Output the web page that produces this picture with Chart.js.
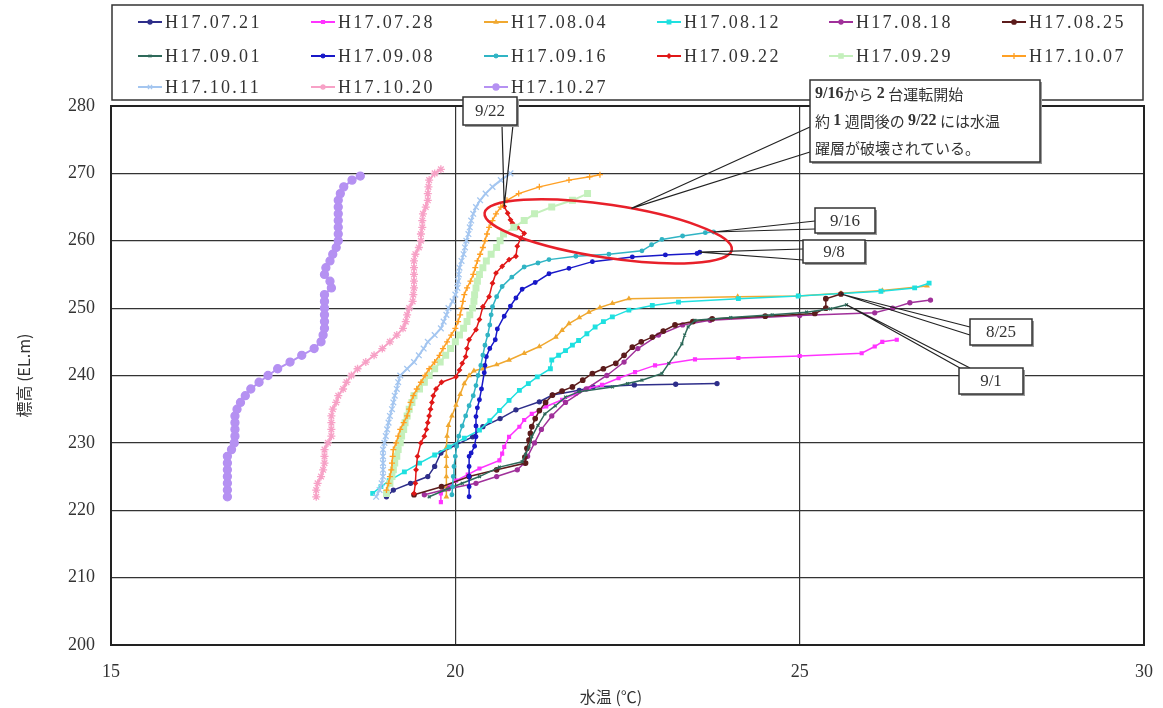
<!DOCTYPE html>
<html>
<head>
<meta charset="utf-8">
<script src="https://cdn.jsdelivr.net/npm/chart.js@4/dist/chart.umd.min.js"></script>
<style>
  html, body { margin: 0; padding: 0; background: #fff; }
  #wrap { width: 1163px; height: 708px; }
</style>
</head>
<body>
<div id="wrap"><canvas id="c" width="1163" height="708"></canvas></div>
<script>
// 水温鉛直分布 (H17) - 標高 vs 水温
const seriesLabels = ["H17.07.21", "H17.07.28", "H17.08.04", "H17.08.12", "H17.08.18", "H17.08.25",
  "H17.09.01", "H17.09.08", "H17.09.16", "H17.09.22", "H17.09.29", "H17.10.07",
  "H17.10.11", "H17.10.20", "H17.10.27"];
const xTicks = [15, 20, 25, 30];
const yTicks = [200, 210, 220, 230, 240, 250, 260, 270, 280];

// 各観測日: 標高(EL.m) と 水温(℃)
const elev0721 = [222.0, 223.0, 224.0, 225.0, 226.5, 228.5, 229.7, 230.9, 232.4, 233.6, 234.9, 236.1, 237.1, 237.8, 238.3, 238.6, 238.7, 238.8];
const temp0721 = [19.0, 19.1, 19.35, 19.6, 19.7, 19.79, 20.01, 20.25, 20.4, 20.65, 20.88, 21.22, 21.41, 21.8, 22.0, 22.6, 23.2, 23.8];

const elev0728 = [221.2, 222.5, 223.5, 224.4, 225.3, 226.2, 227.4, 228.4, 229.4, 230.9, 232.4, 233.4, 234.3, 235.4, 236.4, 237.3, 238.1, 238.6, 239.6, 240.5, 241.5, 242.4, 242.6, 242.9, 243.3, 244.3, 245.0, 245.3];
const temp0728 = [19.79, 19.79, 19.9, 20.01, 20.18, 20.35, 20.64, 20.68, 20.71, 20.78, 20.93, 21.0, 21.11, 21.32, 21.55, 21.75, 21.94, 22.13, 22.37, 22.61, 22.9, 23.48, 24.11, 25.0, 25.9, 26.09, 26.2, 26.41];

const elev0804 = [222.0, 223.5, 225.0, 226.5, 228.0, 229.3, 231.0, 232.6, 234.0, 235.6, 237.2, 238.8, 240.0, 240.7, 241.0, 241.6, 242.3, 243.3, 244.3, 245.7, 246.7, 247.7, 248.6, 249.4, 250.1, 250.7, 251.4, 251.7, 251.8, 252.2, 252.6, 253.3];
const temp0804 = [19.87, 19.87, 19.87, 19.87, 19.87, 19.87, 19.88, 19.9, 19.95, 20.01, 20.07, 20.13, 20.2, 20.27, 20.4, 20.6, 20.78, 21.0, 21.22, 21.46, 21.55, 21.65, 21.8, 21.94, 22.1, 22.28, 22.52, 24.1, 24.98, 25.6, 26.2, 26.85];

const elev0812 = [222.5, 223.5, 224.4, 225.7, 227.0, 228.2, 229.4, 230.7, 231.9, 233.3, 234.8, 236.3, 237.8, 238.8, 239.8, 241.0, 242.3, 243.0, 243.7, 244.5, 245.2, 246.2, 247.2, 248.0, 248.7, 249.7, 250.4, 250.9, 251.4, 251.8, 252.5, 253.0, 253.7];
const temp0812 = [18.8, 18.92, 19.04, 19.26, 19.48, 19.7, 19.91, 20.13, 20.35, 20.5, 20.64, 20.78, 20.93, 21.06, 21.19, 21.38, 21.4, 21.5, 21.6, 21.7, 21.79, 21.91, 22.03, 22.15, 22.28, 22.52, 22.86, 23.24, 24.11, 24.98, 26.18, 26.67, 26.88];

const elev0818 = [222.3, 223.2, 224.0, 225.0, 226.0, 227.0, 228.0, 230.0, 232.0, 234.0, 236.0, 238.0, 240.0, 242.0, 244.0, 246.0, 247.5, 248.2, 248.9, 249.3, 250.0, 250.8, 251.2];
const temp0818 = [19.55, 19.9, 20.3, 20.6, 20.9, 21.0, 21.05, 21.15, 21.25, 21.4, 21.6, 21.9, 22.2, 22.45, 22.65, 22.95, 23.3, 23.7, 25.0, 26.09, 26.35, 26.6, 26.9];

const elev0825 = [222.3, 223.5, 225.0, 226.0, 227.0, 227.9, 229.2, 230.4, 231.4, 232.4, 233.6, 234.8, 236.0, 237.1, 237.7, 238.3, 239.3, 240.3, 241.0, 241.8, 243.0, 244.2, 245.0, 245.7, 246.6, 247.5, 248.0, 248.4, 248.8, 249.2, 250.0, 251.4, 252.1];
const temp0825 = [19.4, 19.8, 20.2, 20.6, 21.02, 21.01, 21.04, 21.07, 21.09, 21.11, 21.16, 21.22, 21.31, 21.41, 21.55, 21.7, 21.85, 21.99, 22.15, 22.33, 22.45, 22.57, 22.7, 22.86, 23.02, 23.19, 23.45, 23.73, 24.5, 25.22, 25.38, 25.38, 25.6];

const elev0901 = [222.0, 223.0, 224.0, 225.0, 226.4, 227.2, 228.3, 229.4, 230.9, 232.6, 234.3, 235.5, 236.8, 237.6, 238.3, 238.8, 239.3, 240.3, 241.8, 243.2, 244.7, 246.0, 247.2, 248.2, 248.6, 249.0, 249.4, 249.9, 250.5];
const temp0901 = [19.62, 19.85, 20.1, 20.35, 20.64, 20.97, 21.02, 21.07, 21.11, 21.2, 21.3, 21.45, 21.6, 21.8, 22.28, 22.5, 22.71, 23.0, 23.1, 23.2, 23.29, 23.33, 23.38, 23.48, 24.0, 24.6, 25.1, 25.45, 25.68];

const elev0908 = [222.0, 223.5, 225.0, 226.5, 228.0, 228.5, 229.5, 230.9, 232.5, 233.9, 235.2, 236.4, 238.0, 240.4, 241.5, 242.8, 244.0, 245.3, 246.9, 248.8, 250.3, 251.5, 252.8, 253.8, 255.1, 255.9, 256.9, 257.6, 257.9, 258.1, 258.3];
const temp0908 = [20.2, 20.2, 20.2, 20.2, 20.2, 20.23, 20.28, 20.3, 20.3, 20.3, 20.32, 20.35, 20.38, 20.42, 20.43, 20.45, 20.5, 20.58, 20.61, 20.71, 20.8, 20.88, 20.97, 21.16, 21.36, 21.65, 21.99, 22.57, 23.05, 23.51, 23.55];

const elev0916 = [222.3, 223.5, 225.0, 226.5, 228.0, 229.5, 231.0, 232.5, 234.0, 235.5, 237.0, 238.5, 240.0, 241.5, 243.0, 244.5, 246.0, 247.5, 249.0, 250.2, 251.7, 253.2, 254.6, 256.1, 256.7, 257.2, 257.7, 258.0, 258.5, 259.4, 260.2, 260.7, 261.2, 261.3];
const temp0916 = [19.95, 19.96, 19.97, 19.98, 20.0, 20.02, 20.05, 20.1, 20.15, 20.2, 20.26, 20.3, 20.33, 20.37, 20.4, 20.43, 20.47, 20.5, 20.52, 20.54, 20.6, 20.68, 20.82, 21.0, 21.2, 21.36, 21.75, 22.23, 22.71, 22.85, 23.0, 23.3, 23.63, 23.75];

const elev0922 = [222.5, 224.0, 226.0, 228.0, 230.0, 231.0, 232.0, 233.0, 234.0, 235.0, 236.0, 237.0, 238.0, 239.0, 239.8, 240.8, 241.8, 242.8, 244.0, 245.3, 246.8, 248.3, 250.2, 251.7, 253.7, 255.2, 256.2, 257.2, 257.7, 259.2, 260.4, 261.1, 262.0, 262.6, 263.1, 264.1, 265.1];
const temp0922 = [19.4, 19.42, 19.43, 19.45, 19.5, 19.55, 19.58, 19.6, 19.62, 19.64, 19.66, 19.68, 19.72, 19.8, 20.01, 20.06, 20.1, 20.15, 20.17, 20.2, 20.3, 20.35, 20.4, 20.49, 20.54, 20.59, 20.68, 20.78, 20.88, 20.9, 20.95, 21.0, 20.9, 20.83, 20.8, 20.76, 20.71];

const elev0929 = [222.5, 224, 225, 226, 227, 228, 229, 230, 231, 232, 233, 234, 235, 236, 237, 238, 239, 240, 241, 242, 243, 244, 245, 246, 247, 248, 249, 250, 251, 252, 253, 254, 255, 256, 257, 258, 259, 260, 261, 262, 263, 264, 265, 266, 267];
const temp0929 = [19.0, 19.05, 19.08, 19.1, 19.12, 19.15, 19.17, 19.2, 19.22, 19.25, 19.27, 19.3, 19.33, 19.37, 19.4, 19.48, 19.55, 19.62, 19.7, 19.78, 19.86, 19.93, 20.0, 20.06, 20.12, 20.17, 20.21, 20.25, 20.27, 20.28, 20.3, 20.32, 20.35, 20.4, 20.45, 20.52, 20.6, 20.65, 20.7, 20.85, 21.0, 21.15, 21.4, 21.7, 21.92];

const elev1007 = [223, 224, 225, 226, 227, 228, 229, 230, 231, 232, 233, 234, 235, 236, 237, 238, 239, 240, 241, 242, 243, 244, 245, 246, 247, 248, 249, 250, 251, 252, 253, 254, 255, 256, 257, 258, 259, 260, 261, 262, 263, 264, 265, 266, 267, 268, 269, 269.5, 269.8];
const temp1007 = [19.0, 19.03, 19.05, 19.07, 19.08, 19.09, 19.1, 19.14, 19.17, 19.2, 19.25, 19.3, 19.33, 19.35, 19.39, 19.44, 19.5, 19.56, 19.62, 19.7, 19.77, 19.82, 19.88, 19.94, 20.0, 20.04, 20.07, 20.09, 20.11, 20.13, 20.17, 20.22, 20.26, 20.29, 20.32, 20.36, 20.4, 20.43, 20.46, 20.49, 20.54, 20.59, 20.66, 20.75, 20.92, 21.22, 21.65, 21.95, 22.1];

const elev1011 = [222, 223, 224, 225, 226, 227, 228, 229, 230, 231, 232, 233, 234, 235, 236, 237, 238, 239, 240, 241, 242, 243, 244, 245, 246, 247, 248, 249, 250, 251, 252, 253, 254, 255, 256, 257, 258, 259, 260, 261, 262, 263, 264, 265, 266, 267, 268, 269, 270];
const temp1011 = [18.85, 18.9, 18.93, 18.95, 18.95, 18.95, 18.95, 18.95, 18.97, 18.99, 19.01, 19.03, 19.05, 19.08, 19.1, 19.12, 19.15, 19.17, 19.2, 19.3, 19.4, 19.47, 19.54, 19.6, 19.7, 19.79, 19.83, 19.87, 19.9, 19.96, 20.0, 20.03, 20.04, 20.05, 20.06, 20.09, 20.12, 20.14, 20.16, 20.19, 20.21, 20.23, 20.26, 20.3, 20.36, 20.44, 20.54, 20.66, 20.8];

const elev1020 = [222, 223, 224, 225, 226, 227, 228, 229, 230, 231, 232, 233, 234, 235, 236, 237, 238, 239, 240, 241, 242, 243, 244, 245, 246, 247, 248, 249, 250, 251, 252, 253, 254, 255, 256, 257, 258, 259, 260, 261, 262, 263, 264, 265, 266, 267, 268, 269, 270, 270.6];
const temp1020 = [17.98, 17.98, 18.0, 18.05, 18.08, 18.1, 18.1, 18.1, 18.15, 18.2, 18.2, 18.2, 18.2, 18.22, 18.27, 18.3, 18.37, 18.42, 18.49, 18.58, 18.7, 18.82, 18.94, 19.05, 19.15, 19.24, 19.28, 19.3, 19.33, 19.38, 19.39, 19.4, 19.4, 19.4, 19.4, 19.4, 19.42, 19.47, 19.5, 19.5, 19.52, 19.52, 19.53, 19.57, 19.6, 19.6, 19.61, 19.62, 19.7, 19.79];

const elev1027 = [222, 223, 224, 225, 226, 227, 228, 229, 230, 231, 232, 233, 234, 235, 236, 237, 238, 239, 240, 241, 242, 243, 244, 245, 246, 247, 248, 249, 250, 251, 252, 253, 254, 255, 256, 257, 258, 259, 260, 261, 262, 263, 264, 265, 266, 267, 268, 269, 269.6];
const temp1027 = [16.69, 16.69, 16.69, 16.69, 16.69, 16.69, 16.69, 16.75, 16.79, 16.8, 16.8, 16.8, 16.8, 16.83, 16.88, 16.95, 17.03, 17.15, 17.28, 17.42, 17.6, 17.77, 17.95, 18.05, 18.08, 18.1, 18.1, 18.1, 18.1, 18.1, 18.1, 18.2, 18.18, 18.1, 18.12, 18.18, 18.22, 18.27, 18.3, 18.3, 18.3, 18.3, 18.3, 18.3, 18.3, 18.33, 18.38, 18.5, 18.62];

const elevs = [elev0721, elev0728, elev0804, elev0812, elev0818, elev0825, elev0901, elev0908, elev0916, elev0922, elev0929, elev1007, elev1011, elev1020, elev1027];
const temps = [temp0721, temp0728, temp0804, temp0812, temp0818, temp0825, temp0901, temp0908, temp0916, temp0922, temp0929, temp1007, temp1011, temp1020, temp1027];

// 線の色とマーカー
const colors = ["#2e2e8a", "#ff33ff", "#f0a830", "#1fe0e0", "#a0309a", "#5c1c1c", "#2e6a5a", "#1818c8",
  "#30b4c4", "#e01818", "#c4f0bc", "#ffa024", "#a4c6f0", "#f7a1c6", "#b591f2"];
const markers = ["circle", "rect", "triangle", "rect", "circle", "circle", "crossRot", "circle",
  "circle", "rectRot", "rect", "cross", "crossRot", "star", "circle"];
const radii = [2, 2, 2, 2.5, 2, 2.2, 2, 1.8, 1.8, 2, 4, 3, 4, 4, 4];
const widths = [1.5, 1.5, 1.5, 1.5, 1.5, 1.5, 1.5, 1.5, 1.5, 1.5, 2, 1.5, 2, 2, 2];

const N = seriesLabels.length;
const datasets = seriesLabels.map((lab, i) => ({
  label: lab,
  data: elevs[i].map((e, k) => ({ x: temps[i][k], y: e })),
  showLine: true,
  borderColor: colors[i],
  backgroundColor: colors[i],
  pointBackgroundColor: colors[i],
  pointBorderColor: colors[i],
  borderWidth: widths[i],
  pointStyle: markers[i],
  pointRadius: radii[i],
  pointBorderWidth: 1.3,
  tension: 0,
  order: N - i
}));

const SERIF = "'Liberation Serif', 'DejaVu Serif', serif";
const JP = "'Noto Sans CJK JP', 'Noto Sans', sans-serif";

function box(ctx, x, y, w, h) {
  ctx.save();
  ctx.fillStyle = "#9a9a9a";
  ctx.fillRect(x + 2, y + 2, w, h);
  ctx.fillStyle = "#fff";
  ctx.fillRect(x, y, w, h);
  ctx.strokeStyle = "#333";
  ctx.lineWidth = 1.5;
  ctx.strokeRect(x, y, w, h);
  ctx.restore();
}

function wedge(ctx, a, b, p) {
  ctx.save();
  ctx.strokeStyle = "#222";
  ctx.lineWidth = 1.2;
  ctx.beginPath();
  ctx.moveTo(a[0], a[1]); ctx.lineTo(p.x, p.y); ctx.lineTo(b[0], b[1]);
  ctx.stroke();
  ctx.restore();
}

function boxText(ctx, t, x, y, w, h) {
  ctx.save();
  ctx.fillStyle = "#333";
  ctx.font = "17px " + SERIF;
  ctx.textAlign = "center";
  ctx.textBaseline = "middle";
  ctx.fillText(t, x + w / 2, y + h / 2 + 1);
  ctx.restore();
}

const decor = {
  id: "decor",
  afterDraw(chart) {
    const ctx = chart.ctx;
    const ca = chart.chartArea;
    const xs = chart.scales.x, ys = chart.scales.y;
    const last = i => { const d = chart.getDatasetMeta(i).data; const p = d[d.length - 1]; return { x: p.x, y: p.y }; };

    // 枠線
    ctx.save();
    ctx.strokeStyle = "#222";
    ctx.lineWidth = 2;
    ctx.strokeRect(ca.left, ca.top, ca.right - ca.left, ca.bottom - ca.top);
    ctx.restore();

    // 軸タイトル
    ctx.save();
    ctx.fillStyle = "#333";
    ctx.font = "16px " + JP;
    ctx.textAlign = "center";
    ctx.textBaseline = "middle";
    ctx.fillText("水温 (℃)", 611, 697);
    ctx.translate(24, (ca.top + ca.bottom) / 2);
    ctx.rotate(-Math.PI / 2);
    ctx.fillText("標高 (EL.m)", 0, 0);
    ctx.restore();

    // 凡例
    ctx.save();
    ctx.fillStyle = "#fff";
    ctx.fillRect(112, 5, 1031, 95);
    ctx.strokeStyle = "#333";
    ctx.lineWidth = 1.5;
    ctx.strokeRect(112, 5, 1031, 95);
    const colX = [138, 311, 484, 657, 829, 1002];
    const rowY = [22, 56, 87];
    seriesLabels.forEach((lab, i) => {
      const x = colX[i % 6], y = rowY[Math.floor(i / 6)];
      ctx.strokeStyle = colors[i];
      ctx.fillStyle = colors[i];
      ctx.lineWidth = 2;
      ctx.beginPath(); ctx.moveTo(x, y); ctx.lineTo(x + 24, y); ctx.stroke();
      ctx.lineWidth = 1.3;
      if (Chart.helpers && Chart.helpers.drawPoint) {
        Chart.helpers.drawPoint(ctx, { pointStyle: markers[i], radius: Math.min(radii[i], 3), rotation: 0, borderWidth: 1.3 }, x + 12, y);
      }
      ctx.fillStyle = "#333";
      ctx.font = "18px " + SERIF;
      ctx.letterSpacing = "2.3px";
      ctx.textAlign = "left";
      ctx.textBaseline = "middle";
      ctx.fillText(lab, x + 27, y + 1);
      ctx.letterSpacing = "0px";
    });
    ctx.restore();

    // 赤い楕円
    const cx = xs.getPixelForValue(22.22), cy = ys.getPixelForValue(261.4);
    const ra = 125, rb = 26.5, rot = 8.5 * Math.PI / 180;
    ctx.save();
    ctx.strokeStyle = "#e8202a";
    ctx.lineWidth = 2.5;
    ctx.beginPath();
    ctx.ellipse(cx, cy, ra, rb, rot, 0, Math.PI * 2);
    ctx.stroke();
    ctx.restore();
    const t = -81 * Math.PI / 180;
    const ex = ra * Math.cos(t), ey = rb * Math.sin(t);
    const ePt = { x: cx + ex * Math.cos(rot) - ey * Math.sin(rot), y: cy + ex * Math.sin(rot) + ey * Math.cos(rot) };

    // 吹き出し
    wedge(ctx, [502, 125], [513, 125], last(9));
    box(ctx, 463, 97, 54, 28); boxText(ctx, "9/22", 463, 97, 54, 28);

    wedge(ctx, [810, 127], [810, 152], ePt);
    box(ctx, 810, 80, 230, 82);
    const lines = [
      [["9/16", 1], ["から ", 0], ["2", 1], [" 台運転開始", 0]],
      [["約 ", 0], ["1", 1], [" 週間後の ", 0], ["9/22", 1], [" には水温", 0]],
      [["躍層が破壊されている。", 0]]
    ];
    ctx.save();
    ctx.fillStyle = "#333";
    ctx.textBaseline = "middle";
    ctx.textAlign = "left";
    lines.forEach((segs, r) => {
      let x = 815;
      const y = 94 + r * 27;
      segs.forEach(([s, b]) => {
        ctx.font = (b ? "bold 16px " + SERIF : "15px " + JP);
        ctx.fillText(s, x, y);
        x += ctx.measureText(s).width;
      });
    });
    ctx.restore();

    wedge(ctx, [815, 221], [815, 229], last(8));
    box(ctx, 815, 208, 60, 25); boxText(ctx, "9/16", 815, 208, 60, 25);

    wedge(ctx, [803, 249], [803, 260], last(7));
    box(ctx, 803, 240, 62, 23); boxText(ctx, "9/8", 803, 240, 62, 23);

    wedge(ctx, [970, 327], [970, 335], last(5));
    box(ctx, 970, 319, 62, 26); boxText(ctx, "8/25", 970, 319, 62, 26);

    wedge(ctx, [960, 368], [970, 368], last(6));
    box(ctx, 959, 368, 64, 26); boxText(ctx, "9/1", 959, 368, 64, 26);
  }
};

new Chart(document.getElementById("c").getContext("2d"), {
  type: "scatter",
  data: { datasets: datasets },
  options: {
    responsive: false,
    animation: false,
    devicePixelRatio: 1,
    layout: { padding: { left: 0, right: 19, top: 106, bottom: 0 } },
    plugins: { legend: { display: false }, tooltip: { enabled: false } },
    scales: {
      x: {
        type: "linear", min: 15, max: 30,
        afterBuildTicks: s => { s.ticks = xTicks.map(v => ({ value: v })); },
        afterFit: s => { s.height = 63; s.paddingLeft = 0; s.paddingRight = 0; },
        grid: { color: "#333", lineWidth: 1.2, drawTicks: false },
        border: { display: true, color: "#222", width: 2 },
        ticks: { color: "#333", font: { family: SERIF, size: 18 }, padding: 16 }
      },
      y: {
        type: "linear", min: 200, max: 280,
        afterBuildTicks: s => { s.ticks = yTicks.map(v => ({ value: v })); },
        afterFit: s => { s.width = 111; s.paddingTop = 0; s.paddingBottom = 0; },
        grid: { color: "#333", lineWidth: 1.2, drawTicks: false },
        border: { display: true, color: "#222", width: 2 },
        ticks: { color: "#333", font: { family: SERIF, size: 18 }, padding: 16 }
      }
    }
  },
  plugins: [decor]
});
</script>
</body>
</html>
